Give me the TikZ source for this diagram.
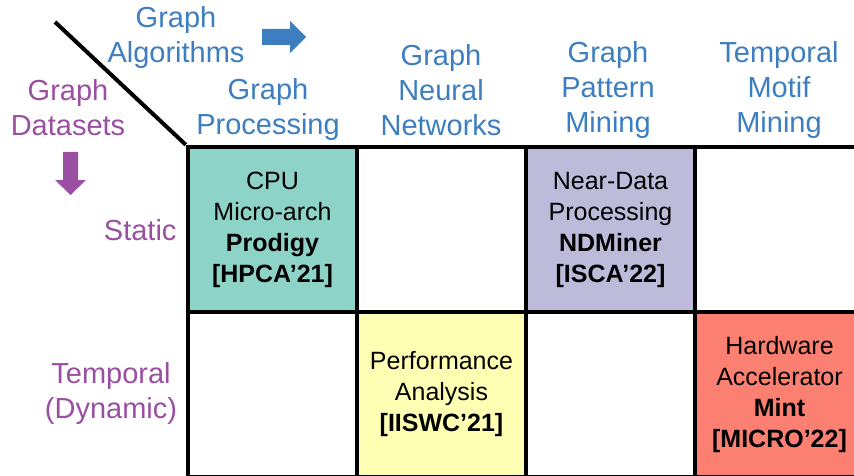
\documentclass[tikz,border=0pt]{standalone}
\usepackage{fontspec}
\setmainfont{Liberation Sans}
\usepackage{tikz}
\definecolor{algoblue}{HTML}{3C7EBF}
\definecolor{setpurple}{HTML}{9A4FA2}
\definecolor{cputeal}{HTML}{8DD3C7}
\definecolor{ndplilac}{HTML}{BEBADA}
\definecolor{perfyellow}{HTML}{FFFFB3}
\definecolor{accsalmon}{HTML}{FB8072}
\tikzset{
	cell/.style={draw=black, line width=4.5pt, minimum width=169pt, minimum height=165pt, inner sep=0pt, align=center, font=\fontsize{25}{31}\selectfont},
	colhead/.style={text=algoblue, align=center, font=\fontsize{29}{35}\selectfont},
	rowhead/.style={text=setpurple, align=center, font=\fontsize{29}{35}\selectfont}
}

\begin{document}
\begin{tikzpicture}[x=1pt, y=-1pt]
	  \useasboundingbox (0,0) rectangle (854,476);
	  % grid of cells
	  \node [cell, fill=cputeal] (gpstatic) at (272.5,229.5) {CPU\\Micro-arch\\\textbf{Prodigy}\\\textbf{[HPCA’21]}};
	  \node [cell, fill=white] (gnnstatic) at (441.5,229.5) {};
	  \node [cell, fill=ndplilac] (gpmstatic) at (610.5,229.5) {Near-Data\\Processing\\\textbf{NDMiner}\\\textbf{[ISCA’22]}};
	  \node [cell, fill=white] (tmmstatic) at (779.5,229.5) {};
	  \node [cell, fill=white] (gptemp) at (272.5,394.5) {};
	  \node [cell, fill=perfyellow] (gnntemp) at (441.5,394.5) {Performance\\Analysis\\\textbf{[IISWC’21]}};
	  \node [cell, fill=white] (gpmtemp) at (610.5,394.5) {};
	  \node [cell, fill=accsalmon] (tmmtemp) at (779.5,394.5) {Hardware\\Accelerator\\\textbf{Mint}\\\textbf{[MICRO’22]}};
	  % corner
	  \coordinate (diagtop) at (55,22);
	  \draw [line width=4pt] (diagtop) -- (gpstatic.north west);
	  \node [colhead] (algos) at (176,38) {Graph\\Algorithms};
	  \fill [algoblue] (262,29) -- (290,29) -- (290,21) -- (306,37) -- (290,53) -- (290,45) -- (262,45) -- cycle;
	  \node [rowhead] (sets) at (68,108) {Graph\\Datasets};
	  \fill [setpurple] (63,152) -- (78,152) -- (78,180) -- (86,180) -- (70.5,195) -- (55,180) -- (63,180) -- cycle;
	  % column heads
	  \node [colhead] (gphead) at (268,109.5) {Graph\\Processing};
	  \node [colhead] (gnnhead) at (441,90) {Graph\\Neural\\Networks};
	  \node [colhead] (gpmhead) at (608,90) {Graph\\Pattern\\Mining};
	  \node [colhead] (tmmhead) at (779,90) {Temporal\\Motif\\Mining};
	  % row heads
	  \node [rowhead, anchor=east] (stathead) at (180,230) {Static};
	  \node [rowhead] (temphead) at (111,393) {Temporal\\(Dynamic)};
	 \end{tikzpicture}
\end{document}
